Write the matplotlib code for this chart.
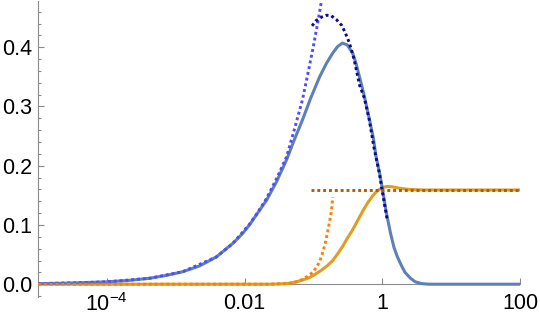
import numpy as np
import matplotlib
matplotlib.use("Agg")
import matplotlib.pyplot as plt
from matplotlib.ticker import FixedLocator, NullLocator

plt.rcParams['font.family'] = ['Liberation Sans', 'DejaVu Sans']
plt.rcParams['mathtext.fontset'] = 'custom'
plt.rcParams['mathtext.rm'] = 'Liberation Sans'

# ---- data; x given as log10(x) ----
blue_lx = [-5.0, -4.68, -4.39, -4.0, -3.67, -3.38, -3.13, -2.90, -2.65, -2.41,
           -2.17, -2.04, -1.93, -1.81, -1.68, -1.54, -1.39, -1.28, -1.16, -1.04,
           -0.91, -0.81, -0.72, -0.65, -0.58, -0.51, -0.43, -0.38, -0.32, -0.26,
           -0.19, -0.13, -0.09, -0.04, 0.0, 0.06, 0.12, 0.17, 0.22, 0.28,
           0.33, 0.41, 0.48, 0.57, 0.68, 1.0, 2.0]
blue_y = [0.001, 0.0015, 0.0025, 0.004, 0.0065, 0.010, 0.015, 0.021, 0.031, 0.046,
          0.069, 0.084, 0.100, 0.120, 0.142, 0.172, 0.210, 0.243, 0.277, 0.314,
          0.350, 0.373, 0.390, 0.401, 0.407, 0.404, 0.390, 0.372, 0.345, 0.317,
          0.280, 0.247, 0.215, 0.188, 0.162, 0.120, 0.086, 0.062, 0.046, 0.031,
          0.020, 0.010, 0.004, 0.001, 0.0, 0.0, 0.0]

orange_lx = [-5.0, -3.0, -1.64, -1.49, -1.35, -1.25, -1.16, -1.06, -0.97, -0.88,
             -0.80, -0.72, -0.65, -0.58, -0.51, -0.43, -0.36, -0.29, -0.22, -0.14,
             -0.07, 0.0, 0.07, 0.14, 0.25, 0.39, 0.61, 1.0, 2.0]
orange_y = [0.0, 0.0, 0.0, 0.0005, 0.0015, 0.004, 0.007, 0.011, 0.017, 0.024,
            0.031, 0.040, 0.051, 0.063, 0.077, 0.092, 0.107, 0.122, 0.136, 0.149,
            0.158, 0.163, 0.165, 0.1645, 0.162, 0.160, 0.159, 0.159, 0.159]

small_blue_lx = [-5.0, -4.39, -4.0, -3.38, -2.90, -2.41, -2.17, -1.93, -1.81, -1.68,
                 -1.54, -1.39, -1.28, -1.16, -1.09, -1.01, -0.94, -0.88, -0.84]
small_blue_y = [0.001, 0.0025, 0.004, 0.010, 0.021, 0.046, 0.069, 0.101, 0.121, 0.145,
                0.177, 0.215, 0.260, 0.311, 0.350, 0.396, 0.440, 0.480, 0.510]

large_blue_lx = [-1.02, -0.96, -0.88, -0.81, -0.74, -0.67, -0.59, -0.54, -0.48, -0.41,
                 -0.33, -0.26, -0.19, -0.12, -0.04, 0.01, 0.07]
large_blue_y = [0.436, 0.445, 0.451, 0.454, 0.453, 0.447, 0.437, 0.425, 0.408, 0.380,
                0.336, 0.314, 0.278, 0.230, 0.186, 0.150, 0.110]

small_orange_lx = [-5.0, -3.0, -1.64, -1.35, -1.25, -1.16, -1.09, -1.01, -0.96, -0.91,
                   -0.87, -0.83, -0.80, -0.77, -0.74, -0.72]
small_orange_y = [0.0, 0.0, 0.0, 0.0015, 0.004, 0.008, 0.013, 0.020, 0.028, 0.038,
                  0.052, 0.068, 0.085, 0.103, 0.122, 0.147]

large_orange_lx = [-1.04, 2.0]
large_orange_y = [0.159, 0.159]

xticks = [1e-4, 1e-2, 1, 100]
xticklabels = [r'$\mathregular{10^{-4}}$', '0.01', '1', '100']
yticks = [0.0, 0.1, 0.2, 0.3, 0.4]
yticklabels = ['0.0', '0.1', '0.2', '0.3', '0.4']
yminor = [-0.02, 0.02, 0.04, 0.06, 0.08, 0.12, 0.14, 0.16, 0.18, 0.22, 0.24,
          0.26, 0.28, 0.32, 0.34, 0.36, 0.38, 0.42, 0.44, 0.46]


def X(lx):
    return np.power(10.0, np.asarray(lx, dtype=float))


# ---- figure ----
W, H = 540, 318
fig = plt.figure(figsize=(W / 100, H / 100), dpi=100)
ax = fig.add_axes([38 / W, (H - 297) / H, 482 / W, 296 / H])
ax.set_xscale('log')
ax.set_xlim(1e-5, 100)
ax.set_ylim(-0.0216, 0.478)

dot = (0, (1.0, 1.0))
ax.plot(X(orange_lx), orange_y, color='#E19C24', lw=2.2, zorder=3,
        solid_capstyle='round', solid_joinstyle='round')
ax.plot(X(blue_lx), blue_y, color='#5E81B5', lw=2.2, zorder=4,
        solid_capstyle='round', solid_joinstyle='round')
ax.plot(X(small_blue_lx), small_blue_y, color='#4D4DFF', lw=2.1, ls=dot, zorder=5, dash_capstyle='butt')
ax.plot(X(large_blue_lx), large_blue_y, color='#0A0A8F', lw=2.1, ls=dot, zorder=5, dash_capstyle='butt')
ax.plot(X(small_orange_lx), small_orange_y, color='#FF8000', lw=2.1, ls=dot, zorder=5, dash_capstyle='butt')
ax.plot(X(large_orange_lx), large_orange_y, color='#B35900', lw=2.1, ls=dot, zorder=5, dash_capstyle='butt')

axcol = '#8A8A8A'
for s in ['top', 'right']:
    ax.spines[s].set_visible(False)
ax.spines['left'].set_color(axcol)
ax.spines['bottom'].set_color(axcol)
ax.spines['bottom'].set_position(('data', 0.0))
ax.spines['left'].set_linewidth(0.8)
ax.spines['bottom'].set_linewidth(0.8)

ax.xaxis.set_major_locator(FixedLocator(xticks))
ax.set_xticklabels(xticklabels)
ax.xaxis.set_minor_locator(NullLocator())
ax.yaxis.set_major_locator(FixedLocator(yticks))
ax.set_yticklabels(yticklabels)
ax.yaxis.set_minor_locator(FixedLocator(yminor))

ax.tick_params(axis='both', which='major', direction='in', length=4.5, width=0.8,
               color=axcol, labelsize=15.5, labelcolor='black')
ax.tick_params(axis='y', which='minor', direction='in', length=2.5, width=0.8, color=axcol)
ax.tick_params(axis='x', which='major', pad=6.5)
ax.tick_params(axis='y', which='major', pad=4)

fig.savefig('out.png', dpi=100)
